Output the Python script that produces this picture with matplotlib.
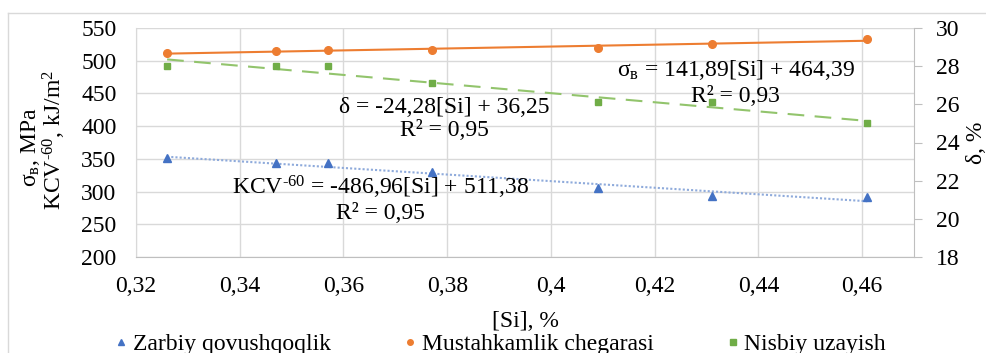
import numpy as np
import matplotlib
matplotlib.use("Agg")
import matplotlib.pyplot as plt
from matplotlib.lines import Line2D

plt.rcParams['font.family'] = ['Liberation Serif', 'DejaVu Serif']
plt.rcParams['mathtext.fontset'] = 'custom'
plt.rcParams['mathtext.rm'] = 'Liberation Serif'
plt.rcParams['mathtext.it'] = 'Liberation Serif:italic'

# data
si = [0.326, 0.347, 0.357, 0.377, 0.409, 0.431, 0.461]
kcv = [351, 343, 343, 330, 306, 293, 292]          # Zarbiy qovushqoqlik
sigma = [512, 515, 516, 516, 520, 526, 533]        # Mustahkamlik chegarasi
delta = [28.0, 28.0, 28.0, 27.1, 26.1, 26.1, 25.0]  # Nisbiy uzayish

x_ticks = [0.32, 0.34, 0.36, 0.38, 0.40, 0.42, 0.44, 0.46]
x_labels = ["0,32", "0,34", "0,36", "0,38", "0,4", "0,42", "0,44", "0,46"]
left_ticks = [200, 250, 300, 350, 400, 450, 500, 550]
right_ticks = [18, 20, 22, 24, 26, 28, 30]

c_blue = "#4472c4"
c_orange = "#ed7d31"
c_green = "#70ad47"
grid_c = "#d9d9d9"
fs = 17

fig = plt.figure(figsize=(9.86, 3.53), dpi=100)
ax = fig.add_axes([136 / 986, 96 / 353, 778 / 986, 229 / 353])
ax2 = ax.twinx()

# outer chart border
fig.add_artist(Line2D([8 / 986, 8 / 986], [0, 1 - 13 / 353], color=grid_c, lw=1))
fig.add_artist(Line2D([8 / 986, 1], [1 - 13 / 353, 1 - 13 / 353], color=grid_c, lw=1))

ax.set_xlim(0.32, 0.47)
ax.set_ylim(200, 550)
ax2.set_ylim(18, 30)
ax.set_xticks(x_ticks)
ax.set_xticklabels(x_labels)
ax.set_yticks(left_ticks)
ax2.set_yticks(right_ticks)
ax.grid(True, color=grid_c, lw=1)
ax.set_axisbelow(True)

for a in (ax, ax2):
    for s in a.spines.values():
        s.set_visible(False)
ax.spines['bottom'].set_visible(True)
ax.spines['bottom'].set_color("#bfbfbf")
ax.spines['left'].set_visible(True)
ax.spines['left'].set_color(grid_c)
ax2.spines['right'].set_visible(True)
ax2.spines['right'].set_color("#bfbfbf")

ax.tick_params(axis='y', length=0, labelsize=fs, pad=14)
ax.tick_params(axis='x', length=0, labelsize=fs, pad=14)
ax2.tick_params(axis='y', length=6, color="#bfbfbf", labelsize=fs, pad=10)

# trend lines
xs = np.array([si[0], si[-1]])
k = np.polyfit(si, kcv, 1)
s = np.polyfit(si, sigma, 1)
d = np.polyfit(si, delta, 1)
ax.plot(xs, np.polyval(s, xs), color=c_orange, lw=1.5)
ax.plot(xs, np.polyval(k, xs), color="#8eaadb", lw=1.5, ls=(0, (1, 1)))
ax2.plot(xs, np.polyval(d, xs), color="#92c46c", lw=1.5, ls=(0, (8, 5)))

ax.plot(si, sigma, 'o', color=c_orange, ms=5.5, ls='none')
ax.plot(si, kcv, '^', color=c_blue, ms=5.5, ls='none')
ax2.plot(si, delta, 's', color=c_green, ms=5, ls='none')

# equations
ax.text(0.3794, 428, "δ = -24,28[Si] + 36,25", ha='center', va='center', fontsize=fs)
ax.text(0.3794, 394, "R² = 0,95", ha='center', va='center', fontsize=fs)
ax.text(0.4356, 486, r"$\mathrm{σ_{в}}$ = 141,89[Si] + 464,39", ha='center', va='center', fontsize=fs)
ax.text(0.4356, 445, "R² = 0,93", ha='center', va='center', fontsize=fs)
ax.text(0.3671, 307, r"KCV$^{\text{-60}}$ = -486,96[Si] + 511,38", ha='center', va='center', fontsize=fs)
ax.text(0.3671, 267, "R² = 0,95", ha='center', va='center', fontsize=fs)

ax.set_xlabel("[Si], %", fontsize=fs, labelpad=10)
fig.text(30 / 986, 1 - 147 / 353, r"$\mathrm{σ_{в}}$, MPa", rotation=90,
         ha='center', va='center', fontsize=fs)
fig.text(54 / 986, 1 - 140 / 353, r"KCV$^{\text{-60}}$, kJ/m$^{\mathrm{2}}$", rotation=90,
         ha='center', va='center', fontsize=fs)
fig.text(977 / 986, 1 - 143 / 353, "δ, %", rotation=90, ha='center', va='center', fontsize=fs)

handles = [
    Line2D([], [], marker='^', color=c_blue, ls='none', ms=5),
    Line2D([], [], marker='o', color=c_orange, ls='none', ms=4),
    Line2D([], [], marker='s', color=c_green, ls='none', ms=4),
]
labels = ["Zarbiy qovushqoqlik", "Mustahkamlik chegarasi", "Nisbiy uzayish"]
fig.legend(handles, labels, loc='center', bbox_to_anchor=(500 / 986, 1 - 344 / 353), ncol=3,
           frameon=False, fontsize=fs, handlelength=0.6, handletextpad=0.2,
           columnspacing=3.05, borderaxespad=0, borderpad=0)

fig.savefig("out.png", dpi=100)
